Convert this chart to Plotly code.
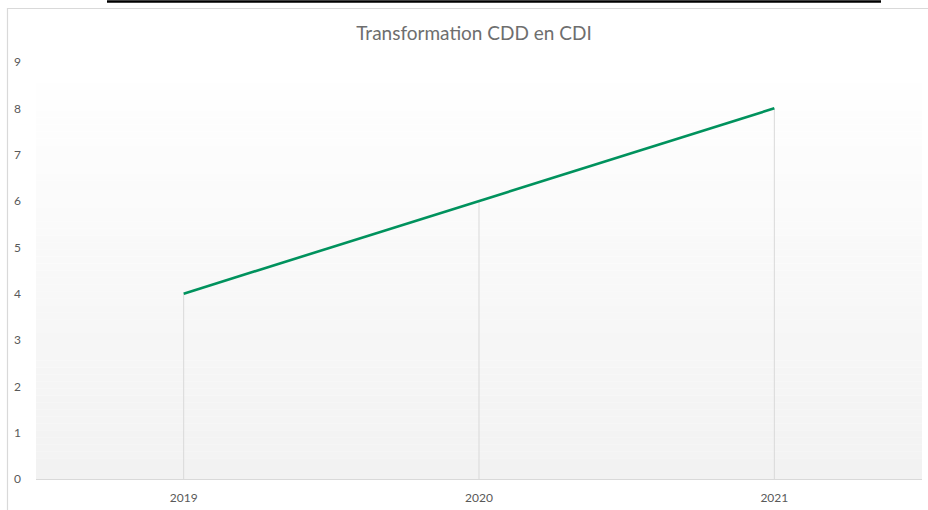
import plotly.graph_objects as go

categories = ["2019", "2020", "2021"]
values = [4, 6, 8]
y_ticks = [0, 1, 2, 3, 4, 5, 6, 7, 8, 9]

W, H = 928, 510
L, R, T, B = 36, 6, 62, 31
pw, ph = W - L - R, H - T - B

def px_x(p):
    return (p - L) / pw

def px_y(p):
    return (H - B - p) / ph

fig = go.Figure()

fig.add_trace(go.Scatter(
    x=categories, y=values, mode="lines",
    line=dict(color="#00925d", width=2.6),
    error_y=dict(type="data", symmetric=False, array=[0] * len(values),
                 arrayminus=values, color="#d9d9d9", thickness=1, width=0),
    hoverinfo="x+y", showlegend=False,
))

shapes = []
# vertical gradient background of the plot area (white top -> light gray bottom)
n = 60
for i in range(n):
    t = i / (n - 1)
    c = round(255 - (255 - 242) * (1 - t))
    shapes.append(dict(type="rect", xref="x domain", yref="y domain",
                       x0=0, x1=1, y0=i / n, y1=(i + 1) / n,
                       fillcolor=f"rgb({c},{c},{c})", line=dict(width=0),
                       layer="below"))
# chart frame
shapes.append(dict(type="rect", xref="paper", yref="paper",
                   x0=px_x(7.5), x1=px_x(935), y0=px_y(8.5), y1=px_y(520),
                   line=dict(color="#d9d9d9", width=1.2), fillcolor="rgba(0,0,0,0)",
                   layer="below"))
# black line at the top
shapes.append(dict(type="line", xref="paper", yref="paper",
                   x0=px_x(107), x1=px_x(881), y0=px_y(1.5), y1=px_y(1.5),
                   line=dict(color="black", width=2.5)))

fig.update_layout(
    width=W, height=H,
    margin=dict(l=L, r=R, t=T, b=B),
    paper_bgcolor="white", plot_bgcolor="rgba(0,0,0,0)",
    font=dict(family="Lato, Open Sans, sans-serif", color="#595959"),
    title=dict(text="Transformation CDD en CDI", x=474 / W, xanchor="center",
               y=1 - 33 / H, yanchor="middle",
               font=dict(size=19, color="#6e6e6e", family="Lato, sans-serif")),
    xaxis=dict(type="category", showgrid=False, showline=True, linecolor="#d9d9d9",
               linewidth=1, ticks="", ticklabelstandoff=8,
               tickfont=dict(size=12, color="#595959"),
               range=[-0.5, len(categories) - 0.5], zeroline=False),
    yaxis=dict(range=[0, 9], tickvals=y_ticks, showgrid=False, zeroline=False,
               showline=False, ticks="", ticklabelstandoff=14,
               tickfont=dict(size=12, color="#595959")),
    shapes=shapes,
)

fig.write_html("out.html", config={"displayModeBar": False},
               post_script="document.body.style.margin='0';document.body.style.overflow='hidden';")
